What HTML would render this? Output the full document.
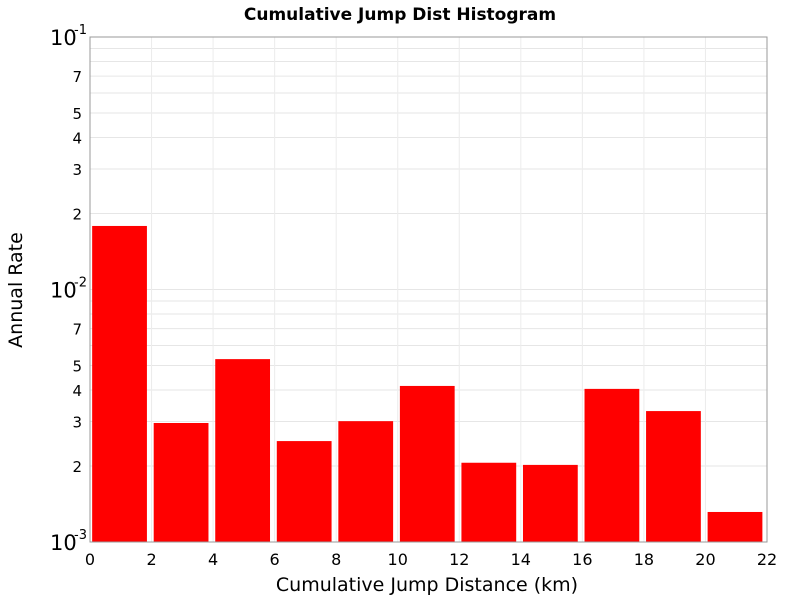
<!DOCTYPE html>
<html><head><meta charset="utf-8"><style>
body{margin:0;background:#fff;}
svg text{font-family:"DejaVu Sans","Liberation Sans",sans-serif;}
</style></head><body>
<svg id="chart" width="800" height="600" xmlns="http://www.w3.org/2000/svg">
<text x="400" y="20" text-anchor="middle" font-size="17" font-weight="bold">Cumulative Jump Dist Histogram</text>
<g id="grid"></g>
<g id="bars"></g>
<rect x="90" y="37" width="677" height="505" fill="none" stroke="#999"/>
<g id="yticks"></g>
<g id="xticks"></g>
<text x="427" y="591" text-anchor="middle" font-size="19">Cumulative Jump Distance (km)</text>
<text transform="translate(22,290) rotate(-90)" text-anchor="middle" font-size="19">Annual Rate</text>
</svg>
<script>
const binStarts=[0,2,4,6,8,10,12,14,16,18,20];
const rates=[0.01785,0.00296,0.0053,0.00251,0.00301,0.00415,0.00206,0.00202,0.00404,0.0033,0.001315];
const xTicks=[0,2,4,6,8,10,12,14,16,18,20,22];
const yMinorLabels=[2,3,4,5,7];
const NS="http://www.w3.org/2000/svg";
const L=90,R=767,T=37,B=542;
const xs=v=>L+(v-0)/22*(R-L);
const ys=v=>T+(Math.log10(0.1)-Math.log10(v))/2*(B-T);
function mk(t,a,p){const e=document.createElementNS(NS,t);for(const k in a)e.setAttribute(k,a[k]);p.appendChild(e);return e;}
const grid=document.getElementById('grid'),yt=document.getElementById('yticks'),xt=document.getElementById('xticks'),bars=document.getElementById('bars');
for(const d of [0.001,0.01]){for(let m=1;m<=10;m++){const v=d*m;const y=ys(v);
 const g=mk('line',{x1:L,x2:R,y1:y,y2:y,stroke:'#e6e6e6'},grid);
 
 
 if(yMinorLabels.includes(m)){const t=mk('text',{x:82,y:y+6,'text-anchor':'end','font-size':15},yt);t.textContent=m;
  
  }
}}
for(const [v,e] of [[0.1,-1],[0.01,-2],[0.001,-3]]){const y=ys(v);
 const t=mk('text',{x:50,y:y+8,'font-size':21},yt);t.textContent='10';
 
 
 const s=mk('text',{x:74,y:y-3,'font-size':13},yt);s.textContent=e;
 
 }
for(const v of xTicks){const x=xs(v);
 const g=mk('line',{x1:x,x2:x,y1:T,y2:B,stroke:'#ececec'},grid);
 
 
 const t=mk('text',{x:x,y:565,'text-anchor':'middle','font-size':16},xt);t.textContent=v;
 
 }
binStarts.forEach((s,i)=>{const x0=xs(s+0.07),x1=xs(s+1.85),y=ys(rates[i]);
 const r=mk('rect',{x:x0,y:y,width:x1-x0,height:B-y,fill:'#ff0000'},bars);
 
 });
</script>
</body></html>
